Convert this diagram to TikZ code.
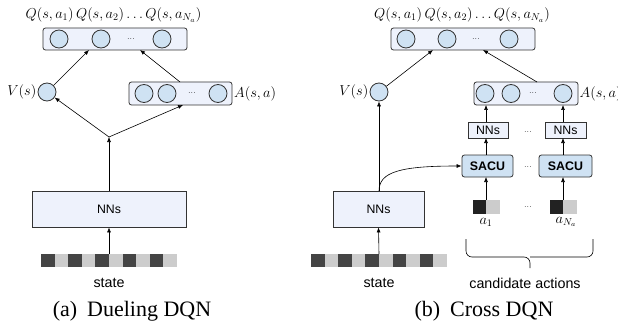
\documentclass[tikz,border=0pt]{standalone}
\usepackage{fontspec}
\newfontfamily\arialf{Liberation Sans}
\newfontfamily\timesf{Liberation Serif}
\usetikzlibrary{arrows.meta,calc}
\definecolor{cfill}{HTML}{CFE2F3}
\definecolor{bfill}{HTML}{EEF2FC}
\definecolor{sdark}{HTML}{444444}
\definecolor{slight}{HTML}{CCCCCC}
\definecolor{adark}{HTML}{222222}
\definecolor{lcol}{HTML}{333333}
\tikzset{
  unit/.style={circle,draw=lcol,fill=cfill,line width=0.8pt,minimum size=18pt,inner sep=0pt},
  layer/.style={draw=lcol,fill=bfill,line width=0.8pt,rounded corners=2.5pt},
  nnbox/.style={draw=lcol,fill=bfill,line width=0.8pt,inner sep=0pt},
  sacubox/.style={draw=lcol,fill=cfill,line width=0.8pt,rounded corners=2.5pt,inner sep=0pt,font=\arialf\bfseries\fontsize{12.4}{14}\selectfont},
  dotsl/.style={font=\fontsize{9}{10}\selectfont,inner sep=0pt},
  conn/.style={line width=0.6pt,-{Latex[length=5pt,width=4pt]}},
  plain/.style={line width=0.6pt},
  mlab/.style={font=\fontsize{14}{16}\selectfont,inner sep=1pt},
  sans/.style={font=\arialf\fontsize{12.3}{14}\selectfont},
  stl/.style={font=\arialf\fontsize{14.3}{16}\selectfont},
  capt/.style={font=\timesf\fontsize{22}{24}\selectfont},
}
\begin{document}
\begin{tikzpicture}[x=1pt,y=-1pt]
\useasboundingbox (0,0) rectangle (618,326);
% ================= (a) Dueling DQN =================
\node[mlab] (qla) at (113.5,15) {$Q(s,a_1)\,Q(s,a_2)\ldots Q(s,a_{N_a})$};
\draw[layer] (43,28) rectangle (187,50);
\node[unit] (qa1) at (59,39) {};
\node[unit] (qa2) at (101,39) {};
\node[unit] (qa3) at (162,39) {};
\node[dotsl] (qad) at (131,39) {...};
\node[unit] (va) at (47,92) {};
\node[mlab,anchor=east] (val) at (37.5,92) {$V(s)$};
\draw[layer] (129,82) rectangle (232,105);
\node[unit] (aa1) at (144,93.5) {};
\node[unit] (aa2) at (167,93.5) {};
\node[unit] (aa3) at (218,93.5) {};
\node[dotsl] (aad) at (192,93.5) {...};
\node[mlab,anchor=west] (aal) at (233,93.5) {$A(s,a)$};
\coordinate (qina) at (89,50);
\coordinate (qinb) at (140,50);
\coordinate (aouta) at (180,82);
\coordinate (ain) at (183,105);
\coordinate (ja) at (109,137);
\draw[conn] (va) -- (qina);
\draw[conn] (aouta) -- (qinb);
\draw[conn] (ja) -- (va);
\draw[conn] (ja) -- (ain);
\node[nnbox,sans,minimum width=154pt,minimum height=36pt] (nna) at (109,209) {NNs};
\draw[conn] (nna.north) -- (ja);
\foreach \i in {0,...,9}{
  \pgfmathsetmacro{\xx}{41+13.6*\i}
  \ifodd\i \fill[slight] (\xx,254) rectangle ++(13.6,13); \else \fill[sdark] (\xx,254) rectangle ++(13.6,13); \fi
}
\coordinate (sta) at (109,254);
\draw[conn] (sta) -- (nna.south);
\node[stl] (stla) at (109,283) {state};
\node[capt] (capa) at (132,311) {(a)\hspace{0.45em}Dueling DQN};
% ================= (b) Cross DQN =================
\node[mlab] (qlb) at (462,15) {$Q(s,a_1)\,Q(s,a_2)\ldots Q(s,a_{N_a})$};
\draw[layer] (391,28) rectangle (535,50);
\node[unit] (qb1) at (406,39) {};
\node[unit] (qb2) at (447,39) {};
\node[unit] (qb3) at (509,39) {};
\node[dotsl] (qbd) at (476,39) {...};
\node[unit] (vb) at (379,92) {};
\node[mlab,anchor=east] (vbl) at (369.5,92) {$V(s)$};
\draw[layer] (474,82) rectangle (578,105);
\node[unit] (ab1) at (485,93.5) {};
\node[unit] (ab2) at (511,93.5) {};
\node[unit] (ab3) at (563,93.5) {};
\node[dotsl] (abd) at (533,93.5) {...};
\node[mlab,anchor=west] (abl) at (578.5,93.5) {$A(s,a)$};
\coordinate (qinc) at (433,50);
\coordinate (qind) at (483,50);
\coordinate (aoutb) at (537,82);
\draw[conn] (vb) -- (qinc);
\draw[conn] (aoutb) -- (qind);
% small NNs
\node[nnbox,sans,minimum width=40pt,minimum height=16pt] (nn1) at (488,130) {NNs};
\node[nnbox,sans,minimum width=41pt,minimum height=16pt] (nn2) at (565.5,130) {NNs};
\node[dotsl] (nnd) at (528,132) {...};
% SACU
\node[sacubox,minimum width=51pt,minimum height=22pt] (sa1) at (487.5,166) {SACU};
\node[sacubox,minimum width=53pt,minimum height=22pt] (sa2) at (565.5,166) {SACU};
\node[dotsl] (sad) at (528,167) {...};
% actions
\fill[adark] (473,200) rectangle (486,214);
\fill[slight] (486,200) rectangle (500,214);
\fill[adark] (550,200) rectangle (563,214);
\fill[slight] (563,200) rectangle (577,214);
\node[dotsl] (acd) at (528,207) {...};
\node[mlab] (a1l) at (486,222) {$a_1$};
\node[mlab] (anl) at (566,222) {$a_{N_a}$};
\coordinate (ac1) at (486,200);
\coordinate (ac2) at (563,200);
\draw[conn] (ac1) -- (486,177);
\draw[conn] (ac2) -- (563,177);
\draw[conn] (486,155) -- (486,138);
\draw[conn] (563,155) -- (563,138);
\draw[conn] (486,122) -- (486,105);
\draw[conn] (563,122) -- (563,105);
% brace
\draw[plain,rounded corners=6pt] (466,239) -- (466,257) -- (530,257) -- (530,268);
\draw[plain,rounded corners=6pt] (593,239) -- (593,257) -- (530,257);
\node[stl] (cal) at (525,283) {candidate actions};
% big NNs
\node[nnbox,sans,minimum width=91pt,minimum height=36pt] (nnb) at (378.5,209) {NNs};
\draw[conn] (379,191) -- (vb);
\draw[conn] (379,191) .. controls (379,172) and (400,166) .. (sa1.west);
\foreach \i in {0,...,9}{
  \pgfmathsetmacro{\xx}{311+13.6*\i}
  \ifodd\i \fill[slight] (\xx,254) rectangle ++(13.6,13); \else \fill[sdark] (\xx,254) rectangle ++(13.6,13); \fi
}
\coordinate (stb) at (379,254);
\draw[conn] (stb) -- (nnb.south);
\node[stl] (stlb) at (379,283) {state};
\node[capt] (capb) at (484,311) {(b)\hspace{0.45em}Cross DQN};
\end{tikzpicture}
\end{document}
